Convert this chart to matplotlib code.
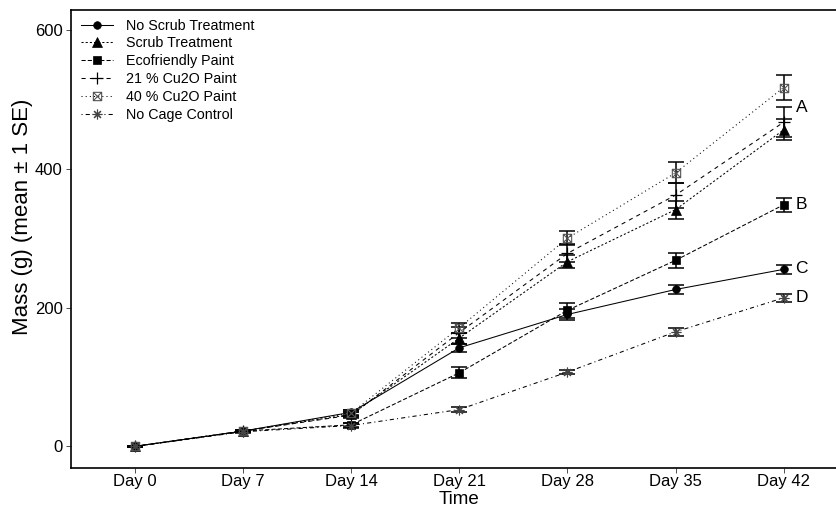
import matplotlib
matplotlib.use("Agg")
import matplotlib.pyplot as plt
from matplotlib.path import Path
import numpy as np

plt.rcParams['font.family'] = ['Liberation Sans', 'DejaVu Sans']

days = ["Day 0", "Day 7", "Day 14", "Day 21", "Day 28", "Day 35", "Day 42"]
series_names = ["No Scrub Treatment", "Scrub Treatment", "Ecofriendly Paint",
                "21 % Cu2O Paint", "40 % Cu2O Paint", "No Cage Control"]

no_scrub = [0, 22, 49, 142, 190, 226, 255]
no_scrub_se = [1, 2, 4, 6, 8, 6.5, 6]
scrub = [0, 22, 46, 156, 266, 341, 456]
scrub_se = [1, 2, 4, 8, 9, 13, 15]
eco = [0, 22, 31, 106, 196, 268, 348]
eco_se = [1, 2, 3, 8, 11, 11, 10]
cu21 = [0, 22, 45, 164, 278, 362, 467]
cu21_se = [1, 2, 4, 8, 13, 18, 22]
cu40 = [0, 22, 48, 171, 300, 394, 517]
cu40_se = [1, 2, 4, 7, 10.5, 15, 17.5]
no_cage = [0, 21, 30, 53, 107, 165, 214]
no_cage_se = [1, 2, 3, 3, 3, 5.5, 5.5]

group_letters = ["A", "B", "C", "D"]
letter_values = [488, 348, 256, 214]

# square-with-cross marker (ggplot shape 7)
sqx = Path([(-1, -1), (1, -1), (1, 1), (-1, 1), (-1, -1), (1, 1), (-1, 1), (1, -1)],
           [Path.MOVETO, Path.LINETO, Path.LINETO, Path.LINETO, Path.CLOSEPOLY,
            Path.LINETO, Path.MOVETO, Path.LINETO])

styles = [
    dict(ls='-', marker='o', ms=5.5, mfc='black', mec='black', mew=0.5),
    dict(ls=(0, (2, 2)), marker='^', ms=6.5, mfc='black', mec='black', mew=0.5),
    dict(ls=(0, (4, 2)), marker='s', ms=6, mfc='black', mec='black', mew=0.5),
    dict(ls=(0, (4, 4)), marker='+', ms=8, mfc='black', mec='black', mew=0.9),
    dict(ls=(0, (1, 3)), marker=sqx, ms=6, mfc='none', mec='#555555', mew=0.8),
    dict(ls=(0, (1, 3, 4, 3)), marker=(8, 2, 0), ms=7, mfc='none', mec='#444444', mew=0.8),
]

means = [no_scrub, scrub, eco, cu21, cu40, no_cage]
ses = [no_scrub_se, scrub_se, eco_se, cu21_se, cu40_se, no_cage_se]

fig = plt.figure(figsize=(8.36, 5.08), dpi=100)
ax = fig.add_axes([71/836, 1 - 467.7/508, 1 - 71/836 + 0.002, (467.7 - 10)/508])

x = np.arange(len(days))
for name, m, s, st in zip(series_names, means, ses, styles):
    ax.errorbar(x, m, yerr=s, fmt='none', ecolor='black', elinewidth=1.1,
                capsize=5.8, capthick=1.1, zorder=2)
    ax.plot(x, m, color='black', lw=0.75, linestyle=st['ls'], marker=st['marker'],
            markersize=st['ms'], markerfacecolor=st['mfc'], markeredgecolor=st['mec'],
            markeredgewidth=st['mew'], label=name, zorder=3)

for letter, v in zip(group_letters, letter_values):
    ax.text(6.11, v, letter, ha='left', va='center', fontsize=12.5, color='black')

ax.set_xlim(-0.593, 6.5)
ax.set_ylim(-30.8, 628.7)
ax.set_xticks(x)
ax.set_xticklabels(days)
ax.set_yticks([0, 200, 400, 600])
ax.tick_params(axis='both', labelsize=12, length=3.5, width=0.6, color='#333333',
               labelcolor='black', pad=2.5)
ax.tick_params(axis='x', pad=1.2)
ax.set_xlabel("Time", fontsize=13.5, va='baseline')
ax.xaxis.set_label_coords((458 - 71) / (836 - 71), -(504.5 - 467.7) / 457.7)
ax.set_ylabel("Mass (g) (mean ± 1 SE)", fontsize=16, va='center')
ax.yaxis.set_label_coords(-(71 - 23) / (836 - 71), 0.548)
for sp in ['left', 'bottom', 'top']:
    ax.spines[sp].set_linewidth(1.2)
ax.spines['right'].set_visible(False)

leg = ax.legend(loc='upper left', bbox_to_anchor=(0.004, 0.997), frameon=False,
                fontsize=10.3, handlelength=2.2, handletextpad=0.9,
                labelspacing=0.27, borderaxespad=0.3, borderpad=0.2)

fig.savefig("out.png", dpi=100)
